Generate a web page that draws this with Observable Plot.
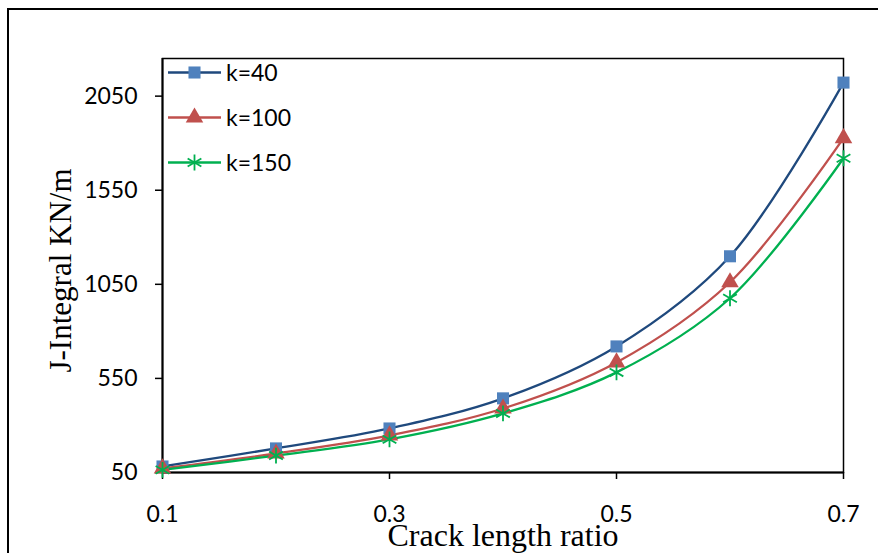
<!DOCTYPE html>
<html>
<head>
<meta charset="utf-8">
<script src="https://cdn.jsdelivr.net/npm/d3@7"></script>
<script src="https://cdn.jsdelivr.net/npm/@observablehq/plot@0.6"></script>
<style>
  body { margin: 0; background: #fff; }
  #wrap { position: relative; width: 878px; height: 553px; overflow: hidden; background: #fff; }
  #border { position: absolute; left: 7px; top: 8px; width: 1000px; height: 700px; border-left: 2px solid #000; border-top: 2px solid #000; pointer-events: none; }
  #chart { position: absolute; left: 0; top: 0; }
  #legend { position: absolute; left: 0; top: 0; pointer-events: none; }
</style>
</head>
<body>
<div id="wrap"><div id="border"></div><div id="chart"></div></div>
<script>
// ---- data ----
const crackRatio = [0.1, 0.2, 0.3, 0.4, 0.5, 0.6, 0.7];
const k40  = [82, 178, 284, 444, 720, 1199, 2122];
const k100 = [72, 151, 247, 390, 635, 1061, 1827];
const k150 = [64, 140, 226, 364, 582, 976, 1720];
const seriesNames = ["k=40", "k=100", "k=150"];
const seriesValues = [k40, k100, k150];
const xTicks = [0.1, 0.3, 0.5, 0.7];
const yTicks = [50, 550, 1050, 1550, 2050];
const xTitle = "Crack length ratio";
const yTitle = "J-Integral KN/m";

// ---- styles ----
const lineColors = ["#1F497D", "#C0504D", "#00B050"];
const markColors = ["#4F81BD", "#C0504D", "#00B050"];
const symbols = ["square", "triangle", "asterisk"];
const radii = [6.8, 6.5, 7.5];

const rows = seriesNames.flatMap((name, i) =>
  crackRatio.map((x, j) => ({x, y: seriesValues[i][j], series: name}))
);

const marks = [
  Plot.frame({stroke: "#000", strokeWidth: 1.5}),
  Plot.axisX({ticks: xTicks, tickFormat: d3.format(".1f"), tickSize: 7, tickPadding: 26, label: null, stroke: "#000", strokeWidth: 1.5, fill: "#000"}),
  Plot.axisY({ticks: yTicks, tickFormat: d => String(d), tickSize: 7, tickPadding: 18, label: null, stroke: "#000", strokeWidth: 1.5, fill: "#000"}),
  Plot.ruleY([50], {stroke: "#000", strokeWidth: 2}),
  Plot.ruleX([0.1], {stroke: "#000", strokeWidth: 2})
];
seriesNames.forEach((name, i) => {
  marks.push(Plot.line(rows.filter(d => d.series === name), {
    x: "x", y: "y", stroke: lineColors[i], strokeWidth: 2.3, curve: "catmull-rom"
  }));
});
seriesNames.forEach((name, i) => {
  const opts = {x: "x", y: "y", symbol: () => symbols[i], r: radii[i]};
  if (symbols[i] === "asterisk") { opts.stroke = markColors[i]; opts.strokeWidth = 1.8; opts.fill = "none"; }
  else { opts.fill = markColors[i]; opts.stroke = "none"; }
  marks.push(Plot.dot(rows.filter(d => d.series === name), opts));
});
marks.push(Plot.text([xTitle], {
  text: d => d, frameAnchor: "bottom", textAnchor: "middle", lineAnchor: "middle", dy: 63,
  fontFamily: "Liberation Serif", fontSize: 32, fill: "#000"
}));
marks.push(Plot.text([yTitle], {
  text: d => d, frameAnchor: "left", textAnchor: "middle", lineAnchor: "middle", rotate: -90, dx: -101, dy: 5,
  fontFamily: "Liberation Serif", fontSize: 31, fill: "#000"
}));

const chart = Plot.plot({
  width: 878,
  height: 553,
  marginLeft: 162,
  marginRight: 35,
  marginTop: 58,
  marginBottom: 81,
  x: {domain: [0.1, 0.7]},
  y: {domain: [50, 2250]},
  style: {fontFamily: "Lato", fontSize: "23px", color: "#000", background: "transparent", overflow: "visible"},
  marks
});
document.getElementById("chart").appendChild(chart);

// ---- legend (inside the plot, top-left) ----
const legend = d3.select("#wrap").append("svg")
  .attr("id", "legend").attr("width", 878).attr("height", 553);
const rowY = [72.5, 117.5, 162.5];
seriesNames.forEach((name, i) => {
  const g = legend.append("g").attr("transform", `translate(0,${rowY[i]})`);
  g.append("line").attr("x1", 168).attr("x2", 221).attr("y1", 0).attr("y2", 0)
    .attr("stroke", lineColors[i]).attr("stroke-width", 2.3);
  const sym = {square: d3.symbolSquare, triangle: d3.symbolTriangle, asterisk: d3.symbolAsterisk}[symbols[i]];
  const p = g.append("path").attr("transform", "translate(194.5,0)")
    .attr("d", d3.symbol(sym, Math.PI * radii[i] * radii[i])());
  if (symbols[i] === "asterisk") p.attr("fill", "none").attr("stroke", markColors[i]).attr("stroke-width", 1.8);
  else p.attr("fill", markColors[i]);
  g.append("text").attr("x", 226).attr("y", 0).attr("dy", "0.35em")
    .attr("font-family", "Lato").attr("font-size", 23).attr("fill", "#000").text(name);
});
</script>
</body>
</html>
